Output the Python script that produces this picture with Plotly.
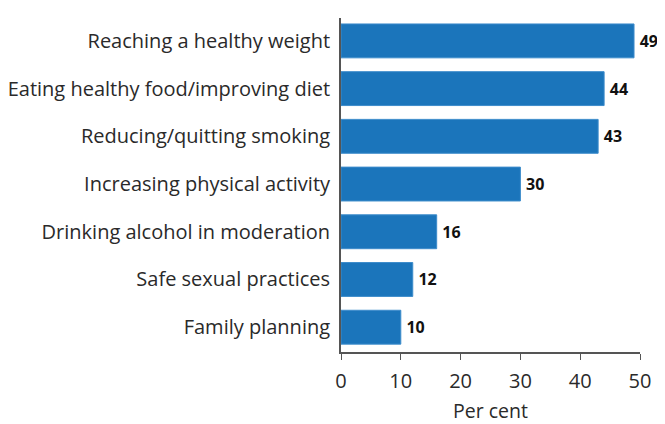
import plotly.graph_objects as go

categories = [
    "Reaching a healthy weight",
    "Eating healthy food/improving diet",
    "Reducing/quitting smoking",
    "Increasing physical activity",
    "Drinking alcohol in moderation",
    "Safe sexual practices",
    "Family planning",
]
values = [49, 44, 43, 30, 16, 12, 10]
x_ticks = [0, 10, 20, 30, 40, 50]

fig = go.Figure()
fig.add_trace(go.Bar(
    y=categories,
    x=values,
    orientation="h",
    marker=dict(color="#1b75bb", line=dict(color="#3d8ccb", width=1)),
    text=[f"\u2009<b>{v}</b>" for v in values],
    textposition="outside",
    textfont=dict(size=16, color="#111111", family="Open Sans, sans-serif"),
    cliponaxis=False,
    width=0.71,
))

fig.update_layout(
    width=657, height=416,
    margin=dict(l=333, r=25, t=10, b=72, autoexpand=False),
    paper_bgcolor="white",
    plot_bgcolor="white",
    showlegend=False,
    font=dict(family="Open Sans, sans-serif", color="#2a2a2a", size=19),
    xaxis=dict(
        range=[0, 50],
        tickvals=x_ticks,
        ticks="outside",
        ticklen=6,
        tickcolor="#555555",
        showline=True,
        linecolor="#555555",
        linewidth=1.5,
        showgrid=False,
        zeroline=False,
        automargin=False,
        ticklabelstandoff=4,
        tickfont=dict(size=20),
        title=dict(text="Per cent", font=dict(size=19.5), standoff=19),
    ),
    yaxis=dict(
        categoryorder="array",
        categoryarray=categories[::-1],
        range=[-0.52, 6.48],
        showline=True,
        linecolor="#555555",
        linewidth=1.5,
        ticks="",
        showgrid=False,
        automargin=False,
        tickfont=dict(size=20),
        ticksuffix=" ",
    ),
)

fig.write_html("out.html", config={"responsive": False})
